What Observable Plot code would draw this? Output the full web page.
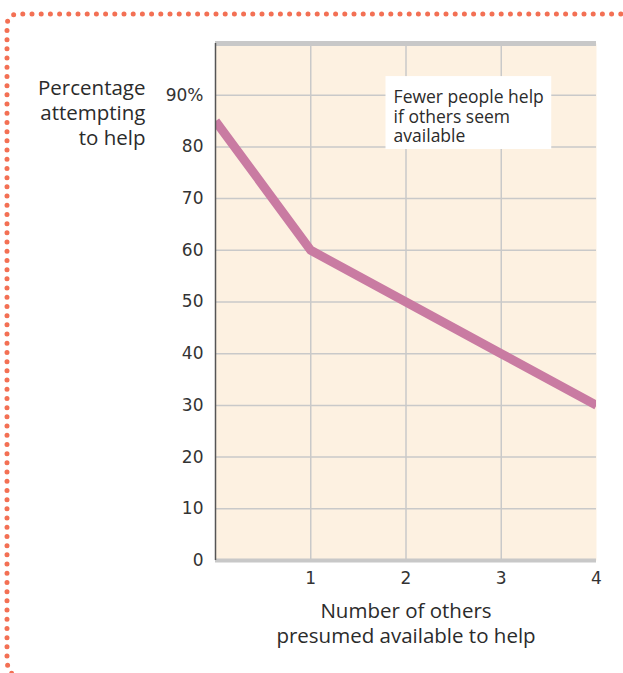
<!DOCTYPE html>
<html>
<head>
<meta charset="utf-8">
<script src="https://cdn.jsdelivr.net/npm/d3@7"></script>
<script src="https://cdn.jsdelivr.net/npm/@observablehq/plot@0.6"></script>
<style>
  html, body { margin: 0; padding: 0; background: #ffffff; }
  #wrap { position: relative; width: 623px; height: 673px; overflow: hidden; }
  #border { position: absolute; left: 0; top: 0; }
  #chart { position: absolute; left: 0; top: 0; }
</style>
</head>
<body>
<div id="wrap">
  <svg id="border" width="623" height="673">
    <path d="M 630 14 H 19 Q 7 14 7 26 V 660 Q 7 672 19 680"
          fill="none" stroke="#f37054" stroke-width="5"
          stroke-linecap="round" stroke-dasharray="0 9.2"/>
  </svg>
  <div id="chart"></div>
</div>
<script>
// Data
const others = [0, 1, 2, 3, 4];
const percentHelping = [85, 60, 50, 40, 30];
const yTicks = [0, 10, 20, 30, 40, 50, 60, 70, 80, 90];
const yTickLabels = ["0", "10", "20", "30", "40", "50", "60", "70", "80", "90%"];
const xTicks = [1, 2, 3, 4];
const xTickLabels = ["1", "2", "3", "4"];
const yTitle = "Percentage\nattempting\nto help";
const xTitle = "Number of others\npresumed available to help";
const noteText = "Fewer people help\nif others seem\navailable";
const noteBox = [{x1: 1.79, x2: 3.53, y1: 79.5, y2: 93.6}];
const noteAt = [{x: 1.87, y: 91.2}];

const data = others.map((x, i) => ({x, y: percentHelping[i]}));
const yLab = yTicks.map((v, i) => ({v, t: yTickLabels[i]}));
const xLab = xTicks.map((v, i) => ({v, t: xTickLabels[i]}));
const tickFont = "DejaVu Sans";

const chart = Plot.plot({
  width: 623,
  height: 673,
  marginLeft: 215,
  marginRight: 27,
  marginTop: 43,
  marginBottom: 113,
  style: {fontFamily: "'Open Sans', sans-serif", background: "transparent", overflow: "visible", color: "#333"},
  x: {domain: [0, 4], axis: null},
  y: {domain: [0, 100], axis: null},
  marks: [
    Plot.frame({fill: "#fdf1e1", stroke: null}),
    Plot.gridY(yTicks.filter(d => d > 0), {stroke: "#c9c9c9", strokeOpacity: 1, strokeWidth: 1.5}),
    Plot.gridX(xTicks.filter(d => d < 4), {stroke: "#c9c9c9", strokeOpacity: 1, strokeWidth: 1.5}),
    Plot.rect(noteBox, {x1: "x1", x2: "x2", y1: "y1", y2: "y2", fill: "white"}),
    Plot.text(noteAt, {x: "x", y: "y", text: () => noteText, textAnchor: "start", lineAnchor: "top",
      fontSize: 17.5, lineHeight: 1.12, fill: "#2b2b2b"}),
    Plot.line(data, {x: "x", y: "y", stroke: "#c97ba2", strokeWidth: 9, strokeLinecap: "butt", strokeLinejoin: "round", clip: true}),
    Plot.ruleY([100], {stroke: "#c8c8c8", strokeWidth: 5}),
    Plot.ruleY([0], {stroke: "#c8c8c8", strokeWidth: 4}),
    Plot.ruleX([0], {stroke: "#555", strokeWidth: 1.5}),
    Plot.text(yLab, {y: "v", text: "t", frameAnchor: "left", dx: -12, textAnchor: "end",
      fontSize: 17, fontFamily: tickFont, fill: "#333"}),
    Plot.text(xLab, {x: "v", text: "t", frameAnchor: "bottom", dy: 23,
      fontSize: 17, fontFamily: tickFont, fill: "#333"}),
    Plot.text([yTitle], {frameAnchor: "top-left", dx: -70, dy: 34, textAnchor: "end", lineAnchor: "top",
      fontSize: 20.5, lineHeight: 1.22, fill: "#2b2b2b"}),
    Plot.text([xTitle], {frameAnchor: "bottom", dy: 40, lineAnchor: "top",
      fontSize: 20.5, lineHeight: 1.22, fill: "#2b2b2b"})
  ]
});
// force the tick-label font (numbers) to DejaVu Sans
d3.select(chart).selectAll("g[font-family='DejaVu Sans'] text").style("font-family", "'DejaVu Sans'");
document.getElementById("chart").appendChild(chart);
</script>
</body>
</html>
